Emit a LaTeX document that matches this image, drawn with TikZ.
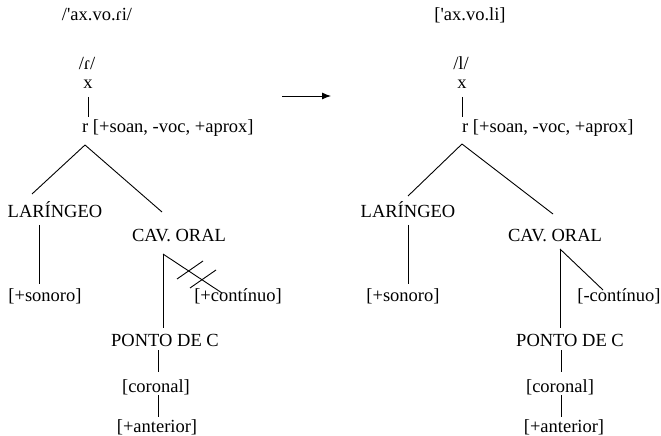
\documentclass[tikz,border=0pt]{standalone}
\usepackage{fontspec}
\setmainfont{Liberation Serif}
\usetikzlibrary{arrows.meta}
\newcommand{\strapos}{{\addfontfeatures{Ligatures=TeXOff}'}}
\begin{document}
\begin{tikzpicture}[x=1bp,y=-1bp,
  lbl/.style={inner sep=0pt, anchor=base, font=\fontsize{18.5bp}{22bp}\selectfont},
  lblw/.style={lbl, anchor=base west},
  edge/.style={line width=0.9bp, draw=black}]
\useasboundingbox (0,0) rectangle (661,436);
% ---------- left tree ----------
\node[lbl] (titleL) at (97,21) {/\strapos ax.vo.ɾi/};
\node[lbl] (segL) at (87,70) {/ɾ/};
\node[lbl] (xL) at (88,89) {x};
\node[lblw] (rL) at (82,133) {r [+soan, -voc, +aprox]};
\node[lbl] (larL) at (55,218) {LARÍNGEO};
\node[lbl] (cavL) at (179,242) {CAV. ORAL};
\node[lbl] (sonL) at (45,302) {[+sonoro]};
\node[lbl] (contL) at (238,302) {[+contínuo]};
\node[lbl] (pontoL) at (165,346) {PONTO DE C};
\node[lbl] (corL) at (156,392) {[coronal]};
\node[lbl] (antL) at (157,432) {[+anterior]};
\coordinate (xLb) at (88,97);
\coordinate (rLt) at (88,117);
\coordinate (apL) at (85,145);
\coordinate (larLt) at (32,194);
\coordinate (cavLt) at (162,212);
\coordinate (larLb) at (39,225);
\coordinate (sonLt) at (39,284);
\coordinate (cavLb) at (163,254);
\coordinate (pontoLt) at (163,328);
\coordinate (contLt) at (222,293);
\coordinate (pontoLb) at (158,350);
\coordinate (corLt) at (158,372);
\coordinate (corLb) at (158,395);
\coordinate (antLt) at (158,417);
\coordinate (c1a) at (177,279);
\coordinate (c1b) at (203,261);
\coordinate (c2a) at (190,288);
\coordinate (c2b) at (216,270);
\draw[edge] (xLb) -- (rLt);
\draw[edge] (apL) -- (larLt);
\draw[edge] (apL) -- (cavLt);
\draw[edge] (larLb) -- (sonLt);
\draw[edge] (cavLb) -- (pontoLt);
\draw[edge] (cavLb) -- (contLt);
\draw[edge] (c1a) -- (c1b);
\draw[edge] (c2a) -- (c2b);
\draw[edge] (pontoLb) -- (corLt);
\draw[edge] (corLb) -- (antLt);
% ---------- arrow ----------
\coordinate (arA) at (282,96);
\coordinate (arB) at (331,96);
\draw[edge, -{Latex[length=9bp,width=7bp]}] (arA) -- (arB);
% ---------- right tree ----------
\node[lbl] (titleR) at (470,21) {[\strapos ax.vo.li]};
\node[lbl] (segR) at (461,70) {/l/};
\node[lbl] (xR) at (462,89) {x};
\node[lblw] (rR) at (462,133) {r [+soan, -voc, +aprox]};
\node[lbl] (larR) at (408,218) {LARÍNGEO};
\node[lbl] (cavR) at (555,242) {CAV. ORAL};
\node[lbl] (sonR) at (403,302) {[+sonoro]};
\node[lbl] (contR) at (619,302) {[-contínuo]};
\node[lbl] (pontoR) at (570,346) {PONTO DE C};
\node[lbl] (corR) at (560,392) {[coronal]};
\node[lbl] (antR) at (564,432) {[+anterior]};
\coordinate (xRb) at (462,97);
\coordinate (rRt) at (462,117);
\coordinate (apR) at (462,144);
\coordinate (larRt) at (408,196);
\coordinate (cavRt) at (553,214);
\coordinate (larRb) at (408,225);
\coordinate (sonRt) at (408,284);
\coordinate (cavRb) at (560,249);
\coordinate (pontoRt) at (560,328);
\coordinate (contRt) at (603,290);
\coordinate (pontoRb) at (561,350);
\coordinate (corRt) at (561,372);
\coordinate (corRb) at (561,395);
\coordinate (antRt) at (561,417);
\draw[edge] (xRb) -- (rRt);
\draw[edge] (apR) -- (larRt);
\draw[edge] (apR) -- (cavRt);
\draw[edge] (larRb) -- (sonRt);
\draw[edge] (cavRb) -- (pontoRt);
\draw[edge] (cavRb) -- (contRt);
\draw[edge] (pontoRb) -- (corRt);
\draw[edge] (corRb) -- (antRt);
\end{tikzpicture}
\end{document}
